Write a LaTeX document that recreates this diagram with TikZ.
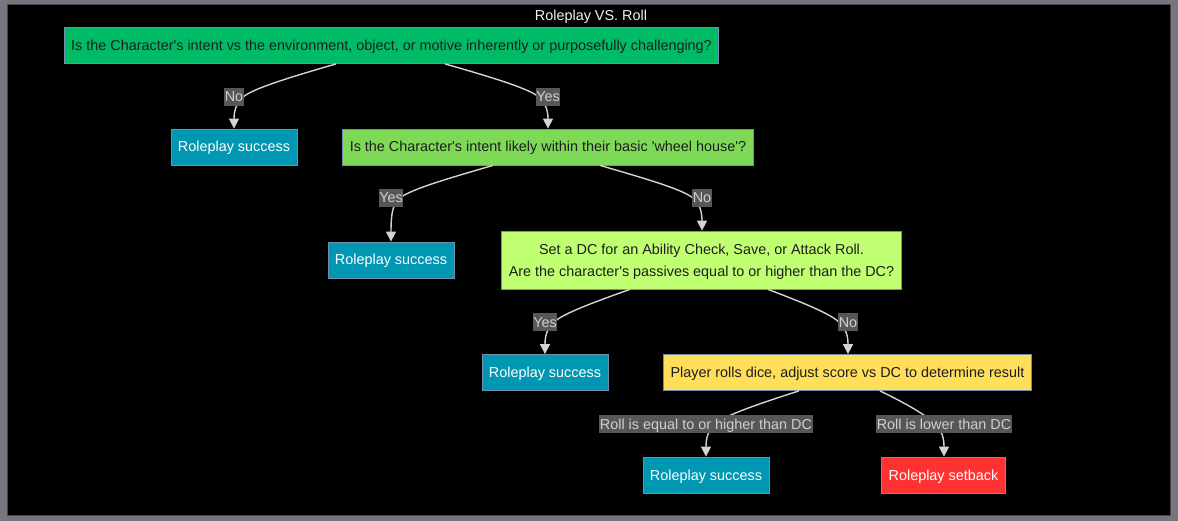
\documentclass[tikz,border=0pt]{standalone}
\usepackage{fontspec}
\setmainfont{Liberation Sans}
\usetikzlibrary{arrows.meta}
\definecolor{framegray}{HTML}{76767E}
\definecolor{frameline}{HTML}{45454A}
\definecolor{nodeborder}{HTML}{6F8FAF}
\definecolor{darktext}{HTML}{1E1E1E}
\definecolor{fillA}{HTML}{00BB66}
\definecolor{fillB}{HTML}{7ED957}
\definecolor{fillC}{HTML}{C1FF72}
\definecolor{fillD}{HTML}{FFDE59}
\definecolor{succfill}{HTML}{0097B2}
\definecolor{setbackfill}{HTML}{FF3131}
\definecolor{lblbg}{HTML}{575757}
\definecolor{lbltext}{HTML}{CFCFCF}
\definecolor{edgecol}{HTML}{D3D3D3}
\newcommand\ap{\textquotesingle}
\begin{document}
\begin{tikzpicture}[x=1pt,y=-1pt,
  txt/.style={font=\fontsize{14.4}{22}\selectfont},
  oneline/.style={text height=13pt,text depth=3pt},
  box/.style={txt,oneline,draw=nodeborder,line width=0.8pt,inner xsep=7pt,inner ysep=0pt,minimum height=36pt,text=darktext,align=center},
  succ/.style={box,fill=succfill,text=white},
  lbl/.style={txt,oneline,fill=lblbg,text=lbltext,inner xsep=0.5pt,inner ysep=0pt,minimum height=18pt},
  edge/.style={draw=edgecol,line width=1.4pt,-{Triangle[length=10pt,width=10pt]}}]
\useasboundingbox (0,0) rectangle (1178,521);
\fill[framegray] (0,0) rectangle (1178,521);
\draw[frameline,fill=black,line width=1pt] (7,5) rectangle (1170,515);

\node[txt,oneline,inner sep=0pt,text=white!90!gray] (title) at (591,16) {Roleplay VS. Roll};

\node[box,fill=fillA] (A) at (391.5,45.5) {Is the Character\ap s intent vs the environment, object, or motive inherently or purposefully challenging?};
\node[succ] (B1) at (234,147) {Roleplay success};
\node[box,fill=fillB] (B) at (548,147) {Is the Character\ap s intent likely within their basic \ap wheel house\ap ?};
\node[succ] (C1) at (391,260) {Roleplay success};
\node[box,fill=fillC,minimum height=58pt,text height=36pt,text depth=3pt] (C) at (701.5,260) {Set a DC for an Ability Check, Save, or Attack Roll.\\Are the character\ap s passives equal to or higher than the DC?};
\node[succ] (D1) at (545,372.5) {Roleplay success};
\node[box,fill=fillD] (D) at (847.5,372.5) {Player rolls dice, adjust score vs DC to determine result};
\node[succ] (E1) at (706,475) {Roleplay success};
\node[box,fill=setbackfill,text=white] (E2) at (943.5,475) {Roleplay setback};

\draw[edge] ([xshift=-55.5pt]A.south) .. controls (279.6,80.2) and (250,90) .. (242,98) .. controls (236,104) and (234,111) .. (B1.north);
\draw[edge] ([xshift=53.5pt]A.south) .. controls (502,80.2) and (532,90) .. (540,98) .. controls (546,104) and (548,111) .. (B.north);
\draw[edge] ([xshift=-55pt]B.south) .. controls (436.6,181.7) and (407,191) .. (399,199) .. controls (393,205) and (391,212) .. (C1.north);
\draw[edge] ([xshift=52pt]B.south) .. controls (656.4,181.7) and (686,191) .. (694,199) .. controls (700,205) and (702,212) .. ([xshift=0.5pt]C.north);
\draw[edge] ([xshift=-71.5pt]C.south) .. controls (583.8,305.7) and (561,315) .. (553,323) .. controls (547,329) and (545,336) .. (D1.north);
\draw[edge] ([xshift=66.5pt]C.south) .. controls (811.2,305.7) and (832,315) .. (840,323) .. controls (846,329) and (848,336) .. ([xshift=0.5pt]D.north);
\draw[edge] ([xshift=-48.5pt]D.south) .. controls (748,407.2) and (722,417) .. (714,425) .. controls (708,431) and (706,438) .. (E1.north);
\draw[edge] ([xshift=32.5pt]D.south) .. controls (913.6,407.2) and (928,417) .. (936,425) .. controls (942,431) and (944,438) .. ([xshift=0.5pt]E2.north);

\node[lbl] (l1) at (234,97) {No};
\node[lbl] (l2) at (548,97) {Yes};
\node[lbl] (l3) at (391,198) {Yes};
\node[lbl] (l4) at (702,198) {No};
\node[lbl] (l5) at (545,322) {Yes};
\node[lbl] (l6) at (848,322) {No};
\node[lbl] (l7) at (706,424) {Roll is equal to or higher than DC};
\node[lbl] (l8) at (944,424) {Roll is lower than DC};
\end{tikzpicture}
\end{document}
